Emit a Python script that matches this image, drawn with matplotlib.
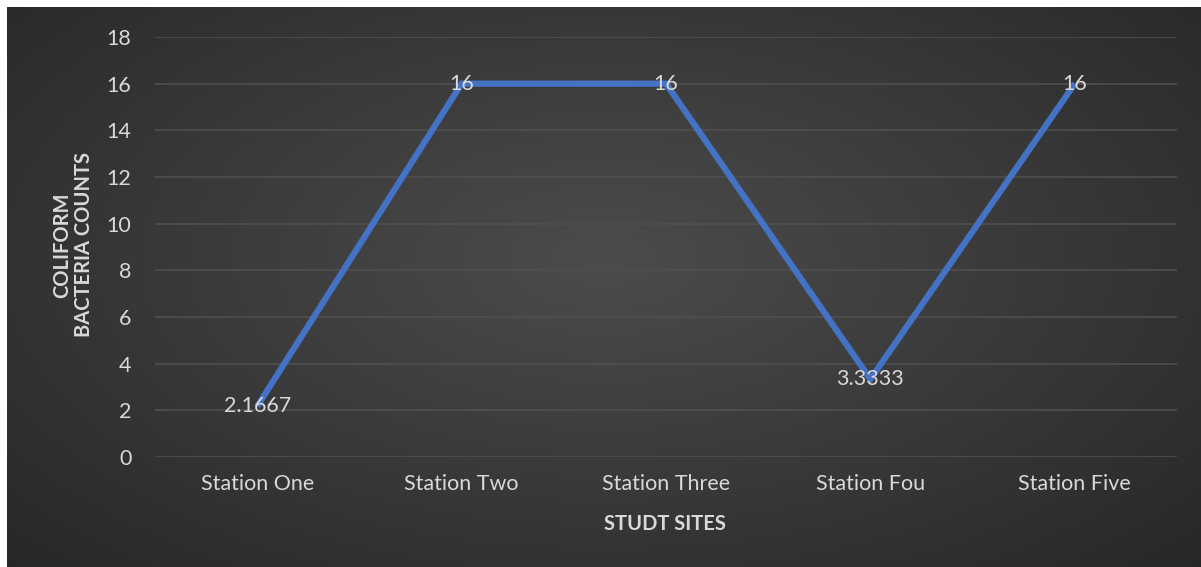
import numpy as np
import matplotlib
matplotlib.use("Agg")
import matplotlib.pyplot as plt

categories = ["Station One", "Station Two", "Station Three", "Station Fou", "Station Five"]
values = [2.1667, 16, 16, 3.3333, 16]
labels = ["2.1667", "16", "16", "3.3333", "16"]
yticks = [0, 2, 4, 6, 8, 10, 12, 14, 16, 18]

W, H = 1201, 567
fig = plt.figure(figsize=(W / 100, H / 100), dpi=100)
fig.patch.set_facecolor("white")

# gradient background
bg = fig.add_axes([7 / W, 0 / H, (W - 7) / W, (H - 7) / H])
bg.set_axis_off()
yy, xx = np.mgrid[0:1:300j, 0:1:600j]
cx, cy = 0.5, 0.55
r = np.sqrt(((xx - cx) * 1.0) ** 2 + ((yy - cy) * 0.9) ** 2)
r = np.clip(r / 0.75, 0, 1)
light = np.array([0x4c, 0x4c, 0x4c]) / 255
dark = np.array([0x25, 0x25, 0x25]) / 255
img = light[None, None, :] * (1 - r[..., None]) + dark[None, None, :] * r[..., None]
bg.imshow(img, aspect="auto", extent=[0, 1, 0, 1], origin="lower")
bg.set_xlim(0, 1)
bg.set_ylim(0, 1)

font = "Lato"
tc = "#D9D9D9"
fs = 15.5

x0, x1 = 155, 1177
y_top, y_bot = 37, 457
ax = fig.add_axes([x0 / W, (H - y_bot) / H, (x1 - x0) / W, (y_bot - y_top) / H])
ax.patch.set_alpha(0)
x = np.arange(len(categories))
ax.set_xlim(-0.5, len(categories) - 0.5)
ax.set_ylim(0, 18)
ax.set_yticks(yticks)
ax.set_yticklabels([str(t) for t in yticks], fontsize=fs, color=tc, fontfamily=font)
ax.set_xticks(x)
ax.set_xticklabels(categories, fontsize=fs, color=tc, fontfamily=font)
ax.tick_params(axis="both", length=0)
ax.tick_params(axis="y", pad=17)
ax.tick_params(axis="x", pad=12)
for s in ax.spines.values():
    s.set_visible(False)
ax.grid(axis="y", color="#4f4f4f", linewidth=1.2)
ax.set_axisbelow(True)

ax.plot(x, values, color="#4472C4", linewidth=4.5, solid_capstyle="butt", solid_joinstyle="miter", zorder=3)
for xi, v, lab in zip(x, values, labels):
    ax.text(xi, v, lab, ha="center", va="center", fontsize=fs, color=tc, fontfamily=font, zorder=4)

fig.text(665 / W, 1 - 524 / H, "STUDT SITES", ha="center", va="center", fontsize=14.5,
         fontweight="bold", color=tc, fontfamily=font)
fig.text(73 / W, 1 - 245 / H, "COLIFORM\nBACTERIA COUNTS", ha="center", va="center", fontsize=14.5,
         fontweight="bold", color=tc, fontfamily=font, rotation=90, linespacing=1.15)

fig.savefig("out.png", dpi=100, facecolor=fig.get_facecolor())
